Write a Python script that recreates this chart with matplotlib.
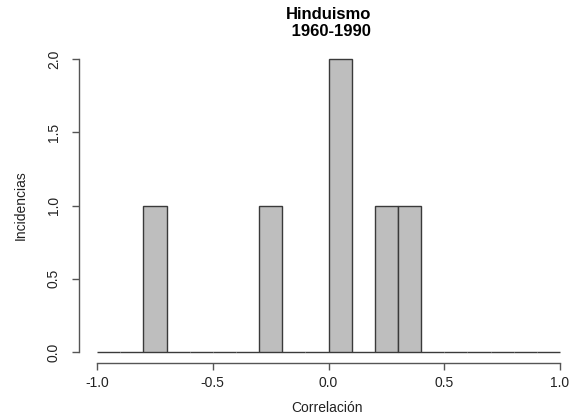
import matplotlib.pyplot as plt
import numpy as np

plt.rcParams['font.family'] = ['Liberation Sans', 'DejaVu Sans']

# histogram bins (width 0.1 from -1 to 1) and counts per bin
bin_edges = np.round(np.arange(-1.0, 1.0001, 0.1), 2)
counts = [0, 0, 1, 0, 0, 0, 0, 1, 0, 0,
          2, 0, 1, 1, 0, 0, 0, 0, 0, 0]
x_ticks = [-1.0, -0.5, 0.0, 0.5, 1.0]
y_ticks = [0.0, 0.5, 1.0, 1.5, 2.0]

fig = plt.figure(figsize=(5.75, 4.15), dpi=100)
ax = fig.add_axes([79 / 575, 52 / 415, 1 - 79 / 575, (363 - 47.3) / 415])

ax.bar(bin_edges[:-1], counts, width=0.1, align='edge',
       color='#bebebe', edgecolor='#3a3a3a', linewidth=1.0)

ax.set_xlim(-1.078, -1.078 + (575 - 79) / 231.5)
ax.set_ylim(-0.075, 2.08)

for side in ['top', 'right']:
    ax.spines[side].set_visible(False)
ax.spines['left'].set_bounds(0, 2)
ax.spines['bottom'].set_bounds(-1, 1)
for side in ['left', 'bottom']:
    ax.spines[side].set_color('#555555')
    ax.spines[side].set_linewidth(1.0)

ax.set_xticks(x_ticks)
ax.set_xticklabels([f'{v:.1f}' for v in x_ticks])
ax.set_yticks(y_ticks)
ax.set_yticklabels([f'{v:.1f}' for v in y_ticks], rotation=90, va='center')
ax.tick_params(axis='both', length=5, width=1.0, color='#555555',
               labelsize=10, labelcolor='#222222')
ax.tick_params(axis='x', pad=4)
ax.tick_params(axis='y', pad=8)

ax.set_xlabel('Correlación', fontsize=10, color='#222222', labelpad=8)
ax.set_ylabel('Incidencias', fontsize=10, color='#222222', labelpad=14)

fig.text(329 / 575, 1 - 23 / 415, 'Hinduismo\n 1960-1990', ha='center', va='center',
         fontsize=12, fontweight='bold', linespacing=1.1)

fig.savefig('out.png', dpi=100, facecolor='white')
